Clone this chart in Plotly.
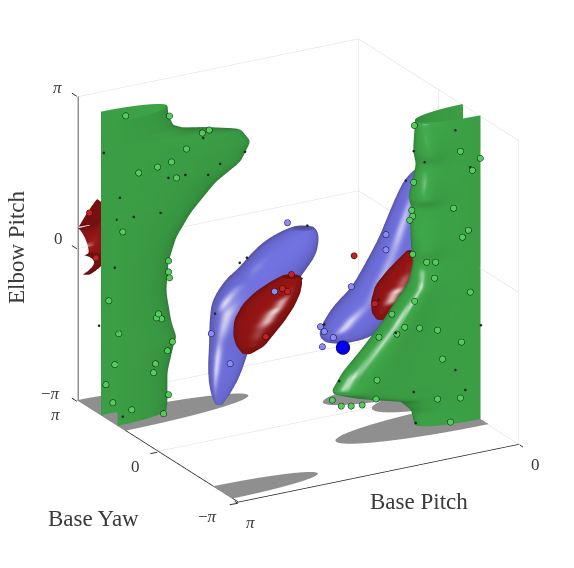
#!/usr/bin/env python3
"""Configuration-space obstacles of a three joint arm: base pitch, base yaw, elbow pitch."""

import numpy as np
import plotly.graph_objects as go

PI = np.pi
EDGE = 3.132
FONT = "Liberation Serif"
INK = "#3a3a3a"

# left green tube, cut by the pitch = pi wall
GL_ELBOW = [-3.142, -2.953, -2.344, -1.854, -1.659, -1.332, -0.691, -0.082, 0.396, 0.848, 1.363, 1.671, 2.042, 2.331, 2.481, 2.576, 2.702, 2.953, 3.142]
GL_SEMI_PITCH = [0.628, 0.641, 0.641, 0.707, 0.741, 0.685, 0.628, 0.653, 0.741, 0.908, 1.184, 1.461, 1.571, 1.461, 1.131, 0.848, 0.707, 0.653, 0.641]

# right green tube, cut by the pitch = 0 wall
GR_ELBOW = [-3.142, -2.809, -2.545, -2.419, -2.293, -2.136, -2.061, -1.747, -1.357, -0.886, -0.528, -0.176, 0.213, 0.553, 1.049, 1.382, 1.596, 2.218, 2.532, 3.091, 3.142]
GR_SEMI_PITCH = [0.628, 0.669, 0.811, 1.068, 1.319, 1.539, 1.552, 1.442, 1.232, 0.999, 0.855, 0.701, 0.647, 0.669, 0.679, 0.669, 0.701, 0.613, 0.647, 0.625, 0.625]
GR_RIDGE = [0.0, 0.03, 0.08, 0.1, 0.12, 0.14, 0.15, 0.15, 0.15, 0.15, 0.15, 0.12, 0.02, 0.12, 0.02, 0.02, 0.14, 0.03, 0.14, 0.01, 0.0]

# blue and red blobs, one row per height
BM_PITCH = [2.055, 2.055, 2.039, 2.014, 1.992, 1.968, 1.905, 1.856, 1.81, 1.701, 1.622, 1.521, 1.458, 1.384, 1.343]
BM_YAW = [1.399, 1.399, 1.381, 1.353, 1.328, 1.30, 1.228, 1.172, 1.119, 0.995, 0.905, 0.79, 0.718, 0.634, 0.588]
BM_ELBOW = [-3.066, -2.966, -2.758, -2.45, -2.142, -1.834, -1.52, -1.213, -0.905, -0.49, -0.289, 0.025, 0.27, 0.496, 0.62]
BM_WIDTH = [0.009, 0.018, 0.034, 0.049, 0.057, 0.063, 0.086, 0.101, 0.112, 0.112, 0.104, 0.101, 0.087, 0.06, 0.029]

RM_PITCH = [2.012, 1.979, 1.958, 1.903, 1.829, 1.75, 1.679, 1.633]
RM_YAW = [0.484, 0.447, 0.422, 0.36, 0.276, 0.186, 0.105, 0.052]
RM_ELBOW = [-1.72, -1.54, -1.33, -1.024, -0.716, -0.452, -0.245, -0.1]
RM_WIDTH = [0.011, 0.044, 0.061, 0.078, 0.081, 0.07, 0.05, 0.028]

BR_PITCH = [0.908, 0.842, 0.779, 0.67, 0.526, 0.419, 0.348, 0.286, 0.245, 0.212, 0.166, 0.128]
BR_YAW = [0.814, 0.74, 0.668, 0.544, 0.379, 0.258, 0.177, 0.105, 0.059, 0.021, -0.032, -0.075]
BR_ELBOW = [-1.99, -1.868, -1.665, -1.292, -0.88, -0.32, 0.151, 0.647, 0.974, 1.325, 1.57, 1.735]
BR_WIDTH = [0.037, 0.08, 0.096, 0.102, 0.095, 0.087, 0.076, 0.069, 0.063, 0.05, 0.031, 0.011]

RR_PITCH = [0.689, 0.681, 0.621, 0.561, 0.493, 0.441, 0.43]
RR_YAW = [-0.159, -0.168, -0.236, -0.305, -0.383, -0.442, -0.454]
RR_ELBOW = [-1.295, -1.15, -0.905, -0.597, -0.288, -0.038, 0.125]
RR_WIDTH = [0.015, 0.034, 0.058, 0.067, 0.055, 0.038, 0.018]

# red sheet behind the left green tube
RL_IN_YAW = [3.142, 3.016, 2.872, 2.765, 2.714, 2.89, 3.142]
RL_IN_ELBOW = [0.421, 0.39, 0.308, 0.188, 0.05, -0.063, -0.113]
RL_OUT_YAW = [3.142, 2.765, 2.325, 2.25, 2.25, 2.639, 2.985]
RL_OUT_ELBOW = [0.421, 0.88, 1.357, 0.754, 0.0, -0.377, -0.49]

# shadows on the floor: pitch, yaw, semi pitch, semi yaw
SHADOW_PITCH = [PI, PI, 0.0, PI, 0.0, 0.0]
SHADOW_YAW = [1.759, 2.702, -1.288, -2.545, 0.628, -0.157]
SHADOW_SEMI_PITCH = [1.508, 0.628, 1.517, 1.056, 1.112, 0.785]
SHADOW_SEMI_YAW = [0.503, 0.44, 0.628, 0.377, 0.534, 0.528]

# sampled configurations
GREEN_PITCH = [2.887, 2.578, 2.136, 2.213, 2.39, 2.556, 2.711, 2.921, 2.5, 3.098, 2.589, 2.589, 2.578, 3.13, 2.7, 2.722, 2.666, 3.13, 2.545, 2.6, 3.13, 2.733, 2.755, 3.13, 2.589, 3.13, 2.998, 2.644,
               0.68, 0.281, 0.06, 0.148, 0.801, 0.358, 0.823, 0.812, 0.845, 0.193, 0.259, 0.812, 0.657, 0.558, 0.569, 0.171, 0.79, 1.044, 0.901, 0.735, 0.536, 1.188, 0.989, 0.27, 0.48, 1.21, 0.281, 0.536, 1.221, 1.708, 1.608, 1.498, 1.376, 0.392]
GREEN_YAW = [2.136, 1.508, 1.508, 1.508, 1.508, 1.508, 1.508, 1.508, 1.508, 1.508, 1.508, 1.508, 1.508, 1.942, 1.508, 1.508, 1.508, 1.552, 1.508, 1.508, 1.709, 1.508, 1.508, 2.055, 1.508, 1.784, 1.508, 1.508,
             -1.4, -1.8, -1.8, -1.8, -1.8, -1.8, -1.8, -1.8, -1.8, -1.8, -1.8, -1.8, -1.8, -1.8, -1.8, -1.8, -1.8, -1.8, -1.8, -1.8, -1.8, -1.8, -1.8, -1.8, -1.8, -1.8, -1.8, -1.8, -1.8, -1.8, -1.8, -1.8, -1.8, -1.8]
GREEN_ELBOW = [2.978, 3.067, 2.61, 2.577, 2.315, 2.111, 2.066, 2.023, 1.761, 0.875, 0.084, -0.143, -0.27, -0.678, -0.967, -1.041, -1.082, -1.226, -1.6, -1.766, -1.917, -1.984, -2.159, -2.445, -2.676, -2.727, -2.831, -3.047,
               3.12, 2.571, 2.342, 2.128, 2.13, 1.426, 1.561, 1.434, 1.364, 0.91, 0.791, 0.651, 0.426, 0.389, 0.064, -0.375, -0.326, -0.497, -0.82, -0.902, -1.02, -0.917, -0.929, -1.368, -1.638, -1.794, -2.517, -2.441, -2.18, -2.017, -2.178, -2.219, -2.244, -2.971]

# configurations mostly buried in a surface, only a sliver of their rim shows
BURIED_PITCH = [3.13, 2.202, 2.589, 2.401, 2.147, 2.014, 1.737, 3.13, 2.677, 3.13, 2.976, 3.13, 3.098, 3.13,
                0.337, 0.801, 0.679, 0.171, 0.053, 1.0, 0.226, 0.337, 0.801, 0.779, 1.631,
                2.007, 1.947, 2.214, 1.439, 1.489, 0.456, 1.141, 0.839]
BURIED_YAW = [2.136, 1.508, 1.508, 1.508, 1.508, 1.508, 1.508, 1.508, 1.508, 1.621, 1.508, 1.709, 1.508, 2.325,
              -1.8, -1.8, -1.8, -1.8, -1.8, -1.8, -1.8, -1.8, -1.8, -1.8, -1.8,
              0.766, 0.698, 1.003, 0.119, 0.175, -0.276, 0.505, -0.565]
BURIED_ELBOW = [2.306, 2.47, 1.794, 1.783, 1.687, 1.864, 2.006, 1.592, 1.106, 1.1, 1.137, 0.081, -2.936, -1.32,
                3.024, 2.769, 2.495, 2.2, -1.106, -0.904, -2.373, -1.92, -2.196, -2.843, -1.654,
                0.07, 0.175, -0.979, 0.835, -0.257, 1.52, -1.445, -0.691]

BLUE_PITCH = [1.606, 2.088, 2.247, 1.9, 0.622, 0.622, 0.914, 1.173, 1.141, 1.064, 1.157]
BLUE_YAW = [0.309, 0.86, 1.04, -0.22, -0.086, -0.086, 0.247, 0.542, 0.505, 0.418, 0.523]
BLUE_ELBOW = [0.897, -2.01, -1.39, -0.232, 0.408, 0.095, -0.665, -1.49, -1.59, -1.716, -1.903]

RED_PITCH = [3.13, 3.13, 1.833, 1.792, 1.974, 1.759, 0.872, 0.766]
RED_YAW = [2.702, 2.444, -0.297, -0.344, -0.135, -0.381, -0.527, 0.653]
RED_ELBOW = [0.88, 0.038, -0.17, -0.233, -1.161, 0.119, -0.773, -0.22]

START_PITCH = [1.326]
START_YAW = [-0.873]
START_ELBOW = [-1.387]

GRAY = "#dcdcdc"
GREEN = (60, 160, 70)
BLUE = (108, 108, 214)
RED = (142, 20, 20)

# camera frame in box units (pitch reversed): right, up, towards the viewer
VIEW = np.array([[0.868, -0.495, 0.0], [0.177, 0.314, 0.932], [-0.461, -0.809, 0.361]])
FLAT_LIGHT = dict(ambient=1, diffuse=0, specular=0, fresnel=0)


def smooth(values, n=90, win=7):
    values = np.asarray(values, float)
    t = np.linspace(0, 1, len(values))
    out = np.interp(np.linspace(0, 1, n), t, values)
    pad = np.pad(out, win, mode="edge")
    return np.convolve(pad, np.ones(win) / win, mode="same")[win:-win]


def shade(xs, ys, zs, base, glints):
    """Vertex colours: soft headlight plus one glint per (half vector, power, strength)."""
    p = np.stack([(PI - xs) / PI, (ys + PI) / (2 * PI), (zs + PI) / (2 * PI)], axis=-1)
    nrm = np.cross(np.gradient(p, axis=0), np.gradient(p, axis=1))
    nrm /= np.maximum(np.linalg.norm(nrm, axis=-1, keepdims=True), 1e-12)
    nv = nrm @ VIEW.T
    nv *= np.where(nv[..., 2:] < 0, -1.0, 1.0)
    col = np.array(base, float) * (0.68 + 0.38 * nv[..., 2:])
    for h, power, strength in glints:
        h = np.array(h, float) / np.linalg.norm(h)
        s = np.clip(nv @ h, 0, 1) ** power * strength
        col = col * (1 - s[..., None]) + 255 * s[..., None]
    col = np.clip(col, 0, 255).astype(int).reshape(-1, 3)
    return ["rgb(%d,%d,%d)" % tuple(c) for c in col]


def grid_mesh(xs, ys, zs, colors, wrap=True):
    nr, nc = xs.shape
    i, j, k = [], [], []
    for a in range(nr - 1):
        for b in range(nc if wrap else nc - 1):
            c = (b + 1) % nc
            p, q, r, s = a * nc + b, a * nc + c, (a + 1) * nc + b, (a + 1) * nc + c
            i += [p, p]
            j += [q, s]
            k += [s, r]
    return go.Mesh3d(x=xs.ravel(), y=ys.ravel(), z=zs.ravel(), i=i, j=j, k=k, vertexcolor=colors,
                     lighting=FLAT_LIGHT, hoverinfo="skip", showscale=False)


def tube(elbow, semi_pitch, pitch0, yaw0, semi_yaw, base, glints, ridge=None):
    e = smooth(elbow, n=140, win=3)
    sp = smooth(semi_pitch, n=140, win=3)
    th = np.linspace(-PI, PI, 96, endpoint=False)
    xs = pitch0 + np.outer(sp, np.cos(th))
    ys = yaw0 + semi_yaw * np.tile(np.sin(th), (len(e), 1))
    if ridge is not None:
        ys = ys - np.outer(smooth(ridge, n=140, win=5), np.exp(-((th + 0.55) / 0.38) ** 2))
    zs = np.outer(e, np.ones_like(th))
    return grid_mesh(xs, ys, zs, shade(xs, ys, zs, base, glints))


def blob(pitch, yaw, elbow, width, base, glints, flat=0.6):
    p, y, e = smooth(pitch), smooth(yaw), smooth(elbow)
    a = smooth(width)
    # close both ends
    a[0] = a[-1] = 0.0
    b = flat * a
    th = np.linspace(0, 2 * PI, 64, endpoint=False)
    du = np.outer(a, np.cos(th)) * 0.868 + np.outer(b, np.sin(th)) * 0.495
    dv = -np.outer(a, np.cos(th)) * 0.495 + np.outer(b, np.sin(th)) * 0.868
    xs = p[:, None] - PI * du
    ys = y[:, None] + 2 * PI * dv
    zs = np.outer(e, np.ones_like(th))
    return grid_mesh(xs, ys, zs, shade(xs, ys, zs, base, glints))


def sheet(base, glints):
    in_y, in_e = smooth(RL_IN_YAW, 30, 3), smooth(RL_IN_ELBOW, 30, 3)
    out_y, out_e = smooth(RL_OUT_YAW, 30, 3), smooth(RL_OUT_ELBOW, 30, 3)
    ws = np.linspace(0, 1, 9)
    ys = np.array([in_y + (out_y - in_y) * w for w in ws])
    zs = np.array([in_e + (out_e - in_e) * w for w in ws])
    # bulges towards the middle of the box between its two rims
    xs = np.array([[3.13 - 0.6 * w * (1 - w)] * ys.shape[1] for w in ws])
    return grid_mesh(xs, ys, zs, shade(xs, ys, zs, base, glints), wrap=False)


def shadow(p0, y0, sp, sy):
    th = np.linspace(0, 2 * PI, 60, endpoint=False)
    x = np.r_[p0, p0 + sp * np.cos(th)]
    y = np.r_[y0, y0 + sy * np.sin(th)]
    z = np.full_like(x, -3.125)
    i = np.zeros(60, int)
    j = np.arange(1, 61)
    k = np.r_[np.arange(2, 61), 1]
    return go.Mesh3d(x=x, y=y, z=z, i=i, j=j, k=k, color="#8f8f8f", flatshading=True,
                     lighting=FLAT_LIGHT, hoverinfo="skip")


def guide(x, y, z, color, width):
    return go.Scatter3d(x=x, y=y, z=z, mode="lines", line=dict(color=color, width=width),
                        hoverinfo="skip", showlegend=False)


def points(x, y, z, color, size):
    return go.Scatter3d(x=x, y=y, z=z, mode="markers", hoverinfo="skip", showlegend=False,
                        marker=dict(size=size, color=color, line=dict(color="#111111", width=1.4), opacity=1))


fig = go.Figure()

# box and grid
for seg in [
    ([PI, 0], [EDGE, EDGE], [EDGE, EDGE]), ([PI, 0], [EDGE, EDGE], [0, 0]), ([PI, 0], [EDGE, EDGE], [-EDGE, -EDGE]),
    ([0.01, 0.01], [PI, -PI], [EDGE, EDGE]), ([0.01, 0.01], [PI, -PI], [0, 0]), ([0.01, 0.01], [PI, -PI], [-EDGE, -EDGE]),
    ([0.01, 0.01], [EDGE, EDGE], [-PI, PI]), ([0.01, 0.01], [-EDGE, -EDGE], [-PI, PI]), ([0.01, 0.01], [0, 0], [-PI, PI]),
    ([PI, 0], [0, 0], [-EDGE, -EDGE]),
]:
    fig.add_trace(guide(*seg, GRAY, 1))
for seg in [
    ([EDGE, EDGE], [EDGE, EDGE], [-PI, PI]), ([EDGE, EDGE], [PI, -PI], [-EDGE, -EDGE]), ([PI, 0], [-EDGE, -EDGE], [-EDGE, -EDGE]),
]:
    fig.add_trace(guide(*seg, "#222222", 1.5))

for row in zip(SHADOW_PITCH, SHADOW_YAW, SHADOW_SEMI_PITCH, SHADOW_SEMI_YAW):
    fig.add_trace(shadow(*row))

fig.add_trace(sheet(RED, [((-0.1, 0.1, 1.0), 200, 0.95)]))
fig.add_trace(tube(GL_ELBOW, GL_SEMI_PITCH, PI, 1.885, 0.327, GREEN, []))
fig.add_trace(tube(GR_ELBOW, GR_SEMI_PITCH, 0.0, -1.257, 0.346, GREEN, [((-0.1, 0.05, 0.99), 110, 0.95)], ridge=GR_RIDGE))
fig.add_trace(blob(BM_PITCH, BM_YAW, BM_ELBOW, BM_WIDTH, BLUE, [((-0.5, -0.1, 0.86), 110, 0.9), ((-0.35, -0.35, 0.87), 110, 0.9)]))
fig.add_trace(blob(BR_PITCH, BR_YAW, BR_ELBOW, BR_WIDTH, BLUE, [((-0.2, -0.3, 0.93), 150, 0.95)]))
fig.add_trace(blob(RM_PITCH, RM_YAW, RM_ELBOW, RM_WIDTH, RED, [((0.15, -0.4, 0.9), 70, 0.9)]))
fig.add_trace(blob(RR_PITCH, RR_YAW, RR_ELBOW, RR_WIDTH, RED, [((0.0, -0.4, 0.92), 70, 0.9)]))

fig.add_trace(points(GREEN_PITCH, GREEN_YAW, GREEN_ELBOW, "#4fcf5a", 3.6))
fig.add_trace(points(BLUE_PITCH, BLUE_YAW, BLUE_ELBOW, "#8a8aff", 3.6))
fig.add_trace(points(RED_PITCH, RED_YAW, RED_ELBOW, "#c81e1e", 3.6))
fig.add_trace(points(START_PITCH, START_YAW, START_ELBOW, "#0000ee", 8))
fig.add_trace(go.Scatter3d(x=BURIED_PITCH, y=BURIED_YAW, z=BURIED_ELBOW, mode="markers", hoverinfo="skip",
                           showlegend=False, marker=dict(size=1.5, color="#222222")))


def tick(x, y, z, ax, ay):
    return dict(x=x, y=y, z=z, text=" ", showarrow=True, arrowhead=0, arrowwidth=1, arrowcolor="#333333", ax=ax, ay=ay)


def label(x, y, z, text, dx, dy):
    return dict(x=x, y=y, z=z, text=text, showarrow=False, xshift=dx, yshift=dy, font=dict(family=FONT, size=17, color=INK))


def title(text, px, py, angle=0):
    return dict(text=text, x=px / 574, y=1 - py / 568, xref="paper", yref="paper", xanchor="center", yanchor="middle",
                showarrow=False, textangle=angle, font=dict(family=FONT, size=23, color=INK))


scene_notes = [
    tick(PI, PI, PI, -8, -5), tick(PI, PI, 0, -8, -5), tick(PI, PI, -PI, -8, -5),
    tick(PI, 0, -PI, -10, 2), tick(PI, -PI, -PI, -11, 2), tick(PI, -PI, -PI, -6, -4), tick(0, -PI, -PI, 6, 4),
    label(PI, PI, PI, "<i>π</i>", -19, 9), label(PI, PI, 0, "0", -18, 10), label(PI, PI, -PI, "−<i>π</i>", -26, 8),
    label(PI, PI, -PI, "<i>π</i>", -21, -13), label(PI, 0, -PI, "0", -22, -14), label(PI, -PI, -PI, "−<i>π</i>", -30, -13),
    label(PI, -PI, -PI, "<i>π</i>", 13, -19), label(0, -PI, -PI, "0", 15, -19),
]

fig.update_layout(
    width=574,
    height=568,
    margin=dict(l=0, r=0, t=0, b=0),
    paper_bgcolor="white",
    showlegend=False,
    scene=dict(
        domain=dict(x=[0.024, 0.988], y=[0.075, 1.0]),
        aspectmode="manual",
        aspectratio=dict(x=1.237, y=1.237, z=1.245),
        camera=dict(
            projection=dict(type="orthographic"),
            eye=dict(x=-0.922, y=-1.618, z=0.722),
            up=dict(x=0, y=0, z=1),
            center=dict(x=0, y=0, z=0),
        ),
        xaxis=dict(range=[PI, 0], visible=False),
        yaxis=dict(range=[-PI, PI], visible=False),
        zaxis=dict(range=[-PI, PI], visible=False),
        annotations=scene_notes,
    ),
    annotations=[
        title("Elbow Pitch", 8, 239, -90),
        title("Base Yaw", 85, 510),
        title("Base Pitch", 411, 493),
    ],
)

fig.write_html("out.html")
